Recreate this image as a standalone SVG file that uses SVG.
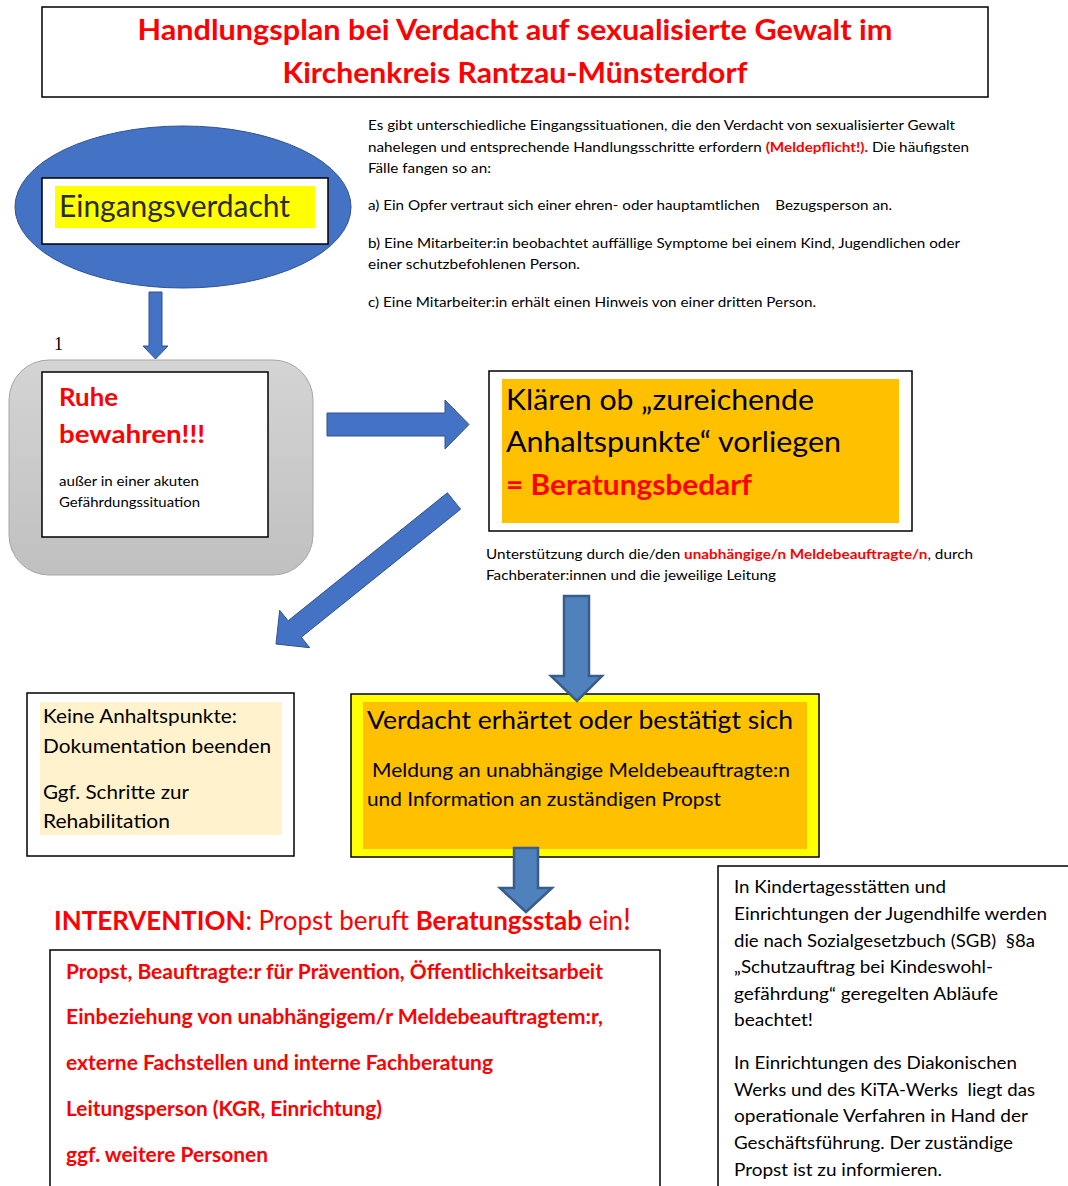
<svg xmlns="http://www.w3.org/2000/svg" width="1068" height="1186" viewBox="0 0 1068 1186">
<style>
text{font-family:Lato,"Open Sans","Liberation Sans",sans-serif;fill:#000}
.red{fill:#FF0000}
.b{font-weight:bold}
.box{fill:#fff;stroke:#000;stroke-width:1.5}
.s14{font-size:14px}
.s18{font-size:18px}
.s20{font-size:20px}
.arrA{fill:#4472C4;stroke:#2F528F;stroke-width:1}
.arrB{fill:#4F81BD;stroke:#385D8A;stroke-width:2.5}
</style>
<defs>
<linearGradient id="grayg" x1="0" y1="0" x2="0" y2="1">
<stop offset="0" stop-color="#d4d4d4"/>
<stop offset="1" stop-color="#c0c0c0"/>
</linearGradient>
</defs>

<g id="title">
<rect x="42" y="7" width="946" height="90" class="box"/>
<text x="515" y="40" text-anchor="middle" class="red b" font-size="28" textLength="755" lengthAdjust="spacingAndGlyphs">Handlungsplan bei Verdacht auf sexualisierte Gewalt im</text>
<text x="515" y="83" text-anchor="middle" class="red b" font-size="28" textLength="465" lengthAdjust="spacingAndGlyphs">Kirchenkreis Rantzau-Münsterdorf</text>
</g>

<g id="eingangsverdacht">
<ellipse cx="183" cy="207" rx="168" ry="81" fill="#4472C4" stroke="#2F528F" stroke-width="1"/>
<rect x="42" y="178" width="286" height="66" class="box" stroke-width="2"/>
<rect x="55" y="186" width="260" height="42" fill="#FFFF00"/>
<text x="59" y="217" font-size="30" fill="#2b2b2b" style="fill:#2b2b2b" textLength="231" lengthAdjust="spacingAndGlyphs">Eingangsverdacht</text>
</g>

<g id="intro-text" class="s14">
<text x="368" y="130" textLength="587" lengthAdjust="spacingAndGlyphs">Es gibt unterschiedliche Eingangssituationen, die den Verdacht von  sexualisierter Gewalt</text>
<text x="368" y="152" textLength="601" lengthAdjust="spacingAndGlyphs">nahelegen und entsprechende Handlungsschritte erfordern <tspan class="red b">(Meldepflicht!).</tspan> Die häufigsten</text>
<text x="368" y="173" textLength="123" lengthAdjust="spacingAndGlyphs">Fälle fangen so an:</text>
<text x="368" y="210" textLength="524" lengthAdjust="spacingAndGlyphs" xml:space="preserve">a) Ein Opfer vertraut sich einer ehren- oder hauptamtlichen    Bezugsperson an.</text>
<text x="368" y="248" textLength="592" lengthAdjust="spacingAndGlyphs">b) Eine Mitarbeiter:in beobachtet auffällige Symptome bei einem Kind, Jugendlichen oder</text>
<text x="368" y="269" textLength="212" lengthAdjust="spacingAndGlyphs">einer schutzbefohlenen Person.</text>
<text x="368" y="307" textLength="448" lengthAdjust="spacingAndGlyphs">c) Eine Mitarbeiter:in erhält einen Hinweis von einer dritten Person.</text>
</g>

<g id="step-number">
<text x="54" y="350" font-family="Liberation Serif, serif" style="font-family:'Liberation Serif',serif" font-size="18">1</text>
</g>

<g id="ruhe">
<rect x="9" y="360" width="304" height="215" rx="40" ry="40" fill="url(#grayg)" stroke="#a6a6a6" stroke-width="1"/>
<rect x="42" y="372" width="226" height="165" class="box"/>
<text x="59" y="406" class="red b" font-size="24" textLength="59" lengthAdjust="spacingAndGlyphs">Ruhe</text>
<text x="59" y="443" class="red b" font-size="24" textLength="146" lengthAdjust="spacingAndGlyphs">bewahren!!!</text>
<text x="59" y="486" class="s14" textLength="140" lengthAdjust="spacingAndGlyphs">außer in einer akuten</text>
<text x="59" y="507" class="s14" textLength="141" lengthAdjust="spacingAndGlyphs">Gefährdungssituation</text>
</g>

<g id="klaeren">
<rect x="489" y="371" width="423" height="160" class="box"/>
<rect x="502" y="379" width="397" height="144" fill="#FFC000"/>
<text x="506" y="410" font-size="28" textLength="308" lengthAdjust="spacingAndGlyphs">Klären ob „zureichende</text>
<text x="506" y="452" font-size="28" textLength="335" lengthAdjust="spacingAndGlyphs">Anhaltspunkte“ vorliegen</text>
<text x="506" y="495" font-size="28" class="red b" textLength="246" lengthAdjust="spacingAndGlyphs">= Beratungsbedarf</text>
</g>

<g id="unterstuetzung" class="s14">
<text x="486" y="559" textLength="487" lengthAdjust="spacingAndGlyphs">Unterstützung durch die/den <tspan class="red b">unabhängige/n Meldebeauftragte/n</tspan>, durch</text>
<text x="486" y="580" textLength="290" lengthAdjust="spacingAndGlyphs">Fachberater:innen und die jeweilige Leitung</text>
</g>

<g id="verdacht">
<rect x="351" y="694" width="468" height="163" fill="#FFFF00" stroke="#000" stroke-width="1.5"/>
<rect x="363" y="702" width="444" height="147" fill="#FFC000"/>
<text x="367" y="729" font-size="25" textLength="426" lengthAdjust="spacingAndGlyphs">Verdacht erhärtet oder bestätigt sich</text>
<text x="372" y="777" class="s20" textLength="418" lengthAdjust="spacingAndGlyphs">Meldung an unabhängige Meldebeauftragte:n</text>
<text x="367" y="806" class="s20" textLength="354" lengthAdjust="spacingAndGlyphs">und Information an zuständigen Propst</text>
</g>

<g id="keine">
<rect x="27" y="693" width="267" height="163" class="box"/>
<rect x="40" y="702" width="242" height="133" fill="#FFF2CC"/>
<text x="43" y="723" class="s20" textLength="194" lengthAdjust="spacingAndGlyphs">Keine Anhaltspunkte:</text>
<text x="43" y="753" class="s20" textLength="228" lengthAdjust="spacingAndGlyphs">Dokumentation beenden</text>
<text x="43" y="799" class="s20" textLength="146" lengthAdjust="spacingAndGlyphs">Ggf. Schritte zur</text>
<text x="43" y="828" class="s20" textLength="127" lengthAdjust="spacingAndGlyphs">Rehabilitation</text>
</g>

<g id="intervention">
<text x="54" y="930" font-size="26" class="red" textLength="577" lengthAdjust="spacingAndGlyphs"><tspan class="b">INTERVENTION</tspan>: Propst beruft <tspan class="b">Beratungsstab</tspan> ein<tspan font-size="30">!</tspan></text>
</g>

<g id="beratungsstab">
<rect x="50" y="950" width="610" height="260" class="box"/>
<text x="66" y="979" class="s20 red b" textLength="537" lengthAdjust="spacingAndGlyphs">Propst, Beauftragte:r für Prävention, Öffentlichkeitsarbeit</text>
<text x="66" y="1024" class="s20 red b" textLength="537" lengthAdjust="spacingAndGlyphs">Einbeziehung von unabhängigem/r Meldebeauftragtem:r,</text>
<text x="66" y="1070" class="s20 red b" textLength="427" lengthAdjust="spacingAndGlyphs">externe Fachstellen und interne Fachberatung</text>
<text x="66" y="1116" class="s20 red b" textLength="316" lengthAdjust="spacingAndGlyphs">Leitungsperson (KGR, Einrichtung)</text>
<text x="66" y="1162" class="s20 red b" textLength="202" lengthAdjust="spacingAndGlyphs">ggf. weitere Personen</text>
</g>

<g id="kita-hinweis" class="s18">
<rect x="718" y="866" width="370" height="340" class="box"/>
<text x="734" y="893" textLength="212" lengthAdjust="spacingAndGlyphs">In Kindertagesstätten und</text>
<text x="734" y="920" textLength="313" lengthAdjust="spacingAndGlyphs">Einrichtungen der Jugendhilfe werden</text>
<text x="734" y="947" textLength="301" lengthAdjust="spacingAndGlyphs" xml:space="preserve">die nach Sozialgesetzbuch (SGB)  §8a</text>
<text x="734" y="973" textLength="259" lengthAdjust="spacingAndGlyphs">„Schutzauftrag bei Kindeswohl-</text>
<text x="734" y="1000" textLength="264" lengthAdjust="spacingAndGlyphs">gefährdung“ geregelten Abläufe</text>
<text x="734" y="1026" textLength="79" lengthAdjust="spacingAndGlyphs">beachtet!</text>
<text x="734" y="1069" textLength="283" lengthAdjust="spacingAndGlyphs">In Einrichtungen des Diakonischen</text>
<text x="734" y="1096" textLength="301" lengthAdjust="spacingAndGlyphs" xml:space="preserve">Werks und des KiTA-Werks  liegt das</text>
<text x="734" y="1122" textLength="294" lengthAdjust="spacingAndGlyphs">operationale Verfahren in Hand der</text>
<text x="734" y="1149" textLength="279" lengthAdjust="spacingAndGlyphs">Geschäftsführung. Der zuständige</text>
<text x="734" y="1176" textLength="208" lengthAdjust="spacingAndGlyphs">Propst ist zu informieren.</text>
</g>

<g id="connectors">
<polygon class="arrA" points="149,292 162,292 162,346 168,346 155.5,359 143,346 149,346"/>
<polygon class="arrA" points="327,413 445,413 445,400 469,424.5 445,449 445,436 327,436"/>
<polygon class="arrA" points="447.4,492.8 460.6,509.2 301.3,637.2 309.7,647.7 276,644 279.7,610.3 288.1,620.8"/>
<polygon class="arrB" points="564,596 589,596 589,676 602,676 577,701 551,676 564,676"/>
<polygon class="arrB" points="514,848 538,848 538,888 552,888 526,912 500,888 514,888"/>
</g>
</svg>
